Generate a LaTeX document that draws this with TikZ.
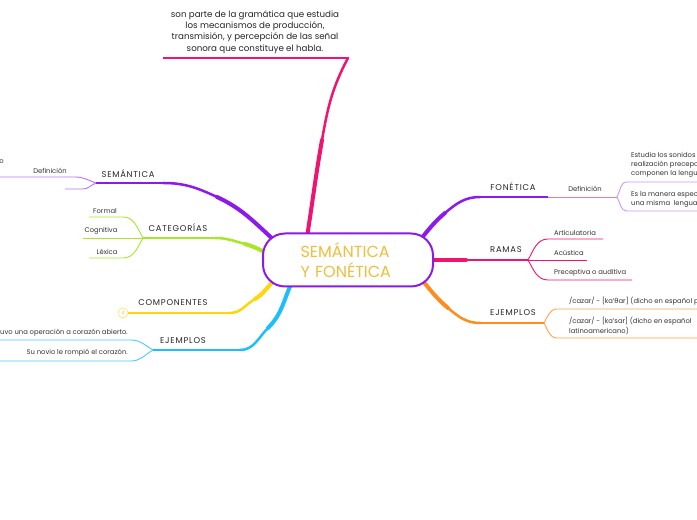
\documentclass[tikz,border=0pt]{standalone}
\usepackage{fontspec}
\setmainfont{Poppins}
\newfontfamily\capsfont[LetterSpace=9]{Poppins}
\newfontfamily\ipafont{DejaVu Sans}
\definecolor{purp}{RGB}{139,26,235}
\definecolor{pinkc}{RGB}{240,20,110}
\definecolor{limec}{RGB}{170,230,40}
\definecolor{yell}{RGB}{255,214,10}
\definecolor{skyc}{RGB}{30,190,250}
\definecolor{orng}{RGB}{255,140,30}
\definecolor{gold}{RGB}{240,190,60}
\tikzset{
  trunk/.style={line width=4bp, line cap=round},
  limb/.style={line width=2.5bp, line cap=round},
  stem/.style={line width=1.6bp},
  twig/.style={line width=0.9bp},
  core/.style={draw=purp, line width=2bp, fill=white, rounded corners=22bp, minimum width=170bp, minimum height=53bp, align=left, text=gold, font=\fontsize{16bp}{20bp}\selectfont},
  topic/.style={inner sep=0pt, text=black!85, font=\capsfont\fontsize{8.4bp}{9bp}\selectfont},
  leaf/.style={inner sep=0pt, align=left, text=black!80, font=\fontsize{6.8bp}{9bp}\selectfont},
  note/.style={inner sep=0pt, align=center, text=black!85, font=\fontsize{8.7bp}{11.3bp}\selectfont},
  counter/.style={draw=yell!55, circle, line width=0.8bp, minimum size=10bp, inner sep=0pt, text=orng!70, font=\fontsize{4.5bp}{5bp}\selectfont}
}

\begin{document}
\begin{tikzpicture}[x=1bp, y=1bp]
  \fill[white] (0,0) rectangle (697,520);
  \useasboundingbox (0,0) rectangle (697,520);

  % top branch
  \coordinate (top-r) at (307,283);
  \coordinate (top-m) at (322,380);
  \coordinate (top-j) at (348,462);
  \coordinate (top-e) at (163,462);
  \draw[trunk, pinkc] (top-r) to[out=81,in=-100] (top-m);
  \draw[limb, pinkc] (top-m) to[out=80,in=-118] (top-j);
  \draw[stem, pinkc] (top-j) -- (top-e);
  \node[note] (top-txt) at (255,488) {son parte de la gramática que estudia\\los mecanismos de producción,\\transmisión, y percepción de las señal\\sonora que constituye el habla.};

  % semantica
  \coordinate (sem-r) at (275,279);
  \coordinate (sem-m) at (217,323);
  \coordinate (sem-h) at (163,337);
  \coordinate (sem-f) at (96,337);
  \draw[trunk, purp] (sem-r) to[out=138,in=-25] (sem-m);
  \draw[limb, purp] (sem-m) to[out=155,in=0] (sem-h);
  \draw[stem, purp] (sem-h) -- (sem-f);
  \coordinate (sem-1) at (75,343);
  \coordinate (sem-1e) at (0,343);
  \coordinate (sem-2) at (83,331);
  \coordinate (sem-2e) at (65,331);
  \draw[twig, purp!60] (sem-f) to[out=160,in=0] (sem-1) -- (sem-1e);
  \draw[twig, purp!60] (sem-f) to[out=-160,in=0] (sem-2) -- (sem-2e);
  \node[topic] (sem) at (128,346) {SEMÁNTICA};
  \node[leaf] (sem-def) at (50,349) {Definición};
  \node[leaf, anchor=east] (sem-txt) at (4,358) {o};

  % categorias
  \coordinate (cat-r) at (270,266);
  \coordinate (cat-m) at (245,276);
  \coordinate (cat-h) at (215,282);
  \coordinate (cat-f) at (143,282);
  \draw[trunk, limec] (cat-r) to[out=160,in=-15] (cat-m);
  \draw[limb, limec] (cat-m) to[out=165,in=0] (cat-h);
  \draw[stem, limec] (cat-h) -- (cat-f);
  \coordinate (cat-1) at (123,303);
  \coordinate (cat-1e) at (89,303);
  \coordinate (cat-2e) at (83,282);
  \coordinate (cat-3) at (123,262);
  \coordinate (cat-3e) at (89,262);
  \draw[twig, limec] (cat-f) to[out=120,in=0] (cat-1) -- (cat-1e);
  \draw[twig, limec] (cat-f) -- (cat-2e);
  \draw[twig, limec] (cat-f) to[out=-120,in=0] (cat-3) -- (cat-3e);
  \node[topic] (cat) at (178,292) {CATEGORÍAS};
  \node[leaf] (cat-formal) at (105,309) {Formal};
  \node[leaf] (cat-cogn) at (101,289) {Cognitiva};
  \node[leaf] (cat-lex) at (107,268) {Léxica};

  % componentes
  \coordinate (cmp-r) at (275,240);
  \coordinate (cmp-m) at (255,221);
  \coordinate (cmp-h) at (230,207);
  \node[counter] (cmp-n) at (123,207) {4};
  \draw[trunk, yell] (cmp-r) to[out=-140,in=30] (cmp-m);
  \draw[limb, yell] (cmp-m) to[out=-150,in=0] (cmp-h);
  \draw[stem, yell] (cmp-h) -- (cmp-n.east);
  \node[topic] (cmp) at (173,217) {COMPONENTES};

  % ejemplos (left)
  \coordinate (ejl-r) at (292,238);
  \coordinate (ejl-m) at (268,192);
  \coordinate (ejl-h) at (240,170);
  \coordinate (ejl-f) at (153,170);
  \draw[trunk, skyc] (ejl-r) to[out=-115,in=45] (ejl-m);
  \draw[limb, skyc] (ejl-m) to[out=-135,in=0] (ejl-h);
  \draw[stem, skyc] (ejl-h) -- (ejl-f);
  \coordinate (ejl-1) at (131,180);
  \coordinate (ejl-1e) at (0,180);
  \coordinate (ejl-2) at (131,159);
  \coordinate (ejl-2e) at (0,159);
  \draw[twig, skyc!80] (ejl-f) to[out=150,in=0] (ejl-1) -- (ejl-1e);
  \draw[twig, skyc!80] (ejl-f) to[out=-150,in=0] (ejl-2) -- (ejl-2e);
  \node[topic] (ejl) at (183,179) {EJEMPLOS};
  \node[leaf, anchor=east] (ejl-a) at (128,187) {tuvo una operación a corazón abierto.};
  \node[leaf, anchor=east] (ejl-b) at (128,167) {Su novio le rompió el corazón.};

  % fonetica
  \coordinate (fon-r) at (420,280);
  \coordinate (fon-m) at (445,307);
  \coordinate (fon-h) at (480,323);
  \coordinate (fon-d) at (548,323);
  \coordinate (fon-f) at (617,323);
  \draw[trunk, purp] (fon-r) to[out=50,in=-140] (fon-m);
  \draw[limb, purp] (fon-m) to[out=40,in=180] (fon-h);
  \draw[stem, purp] (fon-h) -- (fon-d);
  \draw[twig, purp!55] (fon-d) -- (fon-f);
  \coordinate (fon-1) at (627,338);
  \coordinate (fon-1e) at (697,338);
  \coordinate (fon-2) at (627,309);
  \coordinate (fon-2e) at (697,309);
  \draw[twig, purp!45] (fon-f) to[out=60,in=180] (fon-1) -- (fon-1e);
  \draw[twig, purp!45] (fon-f) to[out=-60,in=180] (fon-2) -- (fon-2e);
  \node[topic] (fon) at (513,333) {FONÉTICA};
  \node[leaf] (fon-def) at (585,331) {Definición};
  \node[leaf, anchor=west] (fon-a) at (631,355) {Estudia los sonidos\\realización precepc\\componen la lengu};
  \node[leaf, anchor=west] (fon-b) at (631,321) {Es la manera espec\\una misma\ \ lengua};

  % ramas
  \coordinate (ram-r) at (428,260);
  \coordinate (ram-m) at (466,260);
  \coordinate (ram-n) at (494,260);
  \coordinate (ram-f) at (528,260);
  \draw[trunk, pinkc] (ram-r) -- (ram-m);
  \draw[limb, pinkc] (ram-m) -- (ram-n);
  \draw[stem, pinkc] (ram-n) -- (ram-f);
  \coordinate (ram-1) at (548,281);
  \coordinate (ram-1e) at (603,281);
  \coordinate (ram-2e) at (587,260);
  \coordinate (ram-3) at (548,240);
  \coordinate (ram-3e) at (632,240);
  \draw[twig, pinkc] (ram-f) to[out=60,in=180] (ram-1) -- (ram-1e);
  \draw[twig, pinkc] (ram-f) -- (ram-2e);
  \draw[twig, pinkc] (ram-f) to[out=-60,in=180] (ram-3) -- (ram-3e);
  \node[topic] (ram) at (506,270) {RAMAS};
  \node[leaf, anchor=west] (ram-art) at (554,287) {Articulatoria};
  \node[leaf, anchor=west] (ram-acu) at (554,267) {Acústica};
  \node[leaf, anchor=west] (ram-pre) at (554,247) {Preceptiva o\ auditiva};

  % ejemplos (right)
  \coordinate (ejr-r) at (422,240);
  \coordinate (ejr-m) at (448,212);
  \coordinate (ejr-h) at (480,197);
  \coordinate (ejr-f) at (544,197);
  \draw[trunk, orng] (ejr-r) to[out=-50,in=140] (ejr-m);
  \draw[limb, orng] (ejr-m) to[out=-40,in=180] (ejr-h);
  \draw[stem, orng] (ejr-h) -- (ejr-f);
  \coordinate (ejr-1) at (557,211);
  \coordinate (ejr-1e) at (697,211);
  \coordinate (ejr-2) at (557,182);
  \coordinate (ejr-2e) at (697,182);
  \draw[twig, orng!80] (ejr-f) to[out=60,in=180] (ejr-1) -- (ejr-1e);
  \draw[twig, orng!80] (ejr-f) to[out=-60,in=180] (ejr-2) -- (ejr-2e);
  \node[topic] (ejr) at (513,207) {EJEMPLOS};
  \node[leaf, anchor=west] (ejr-a) at (569,219) {/cazar/ - [ka'{\ipafont θ}ar] (dicho en español p};
  \node[leaf, anchor=west, font=\fontsize{6.8bp}{10bp}\selectfont] (ejr-b) at (569,194) {/cazar/ - [ka'sar] (dicho en español\\latinoamericano)};

  % central topic
  \node[core, text width=95bp] (ctr) at (348,260) {SEMÁNTICA\\Y FONÉTICA};
\end{tikzpicture}
\end{document}
